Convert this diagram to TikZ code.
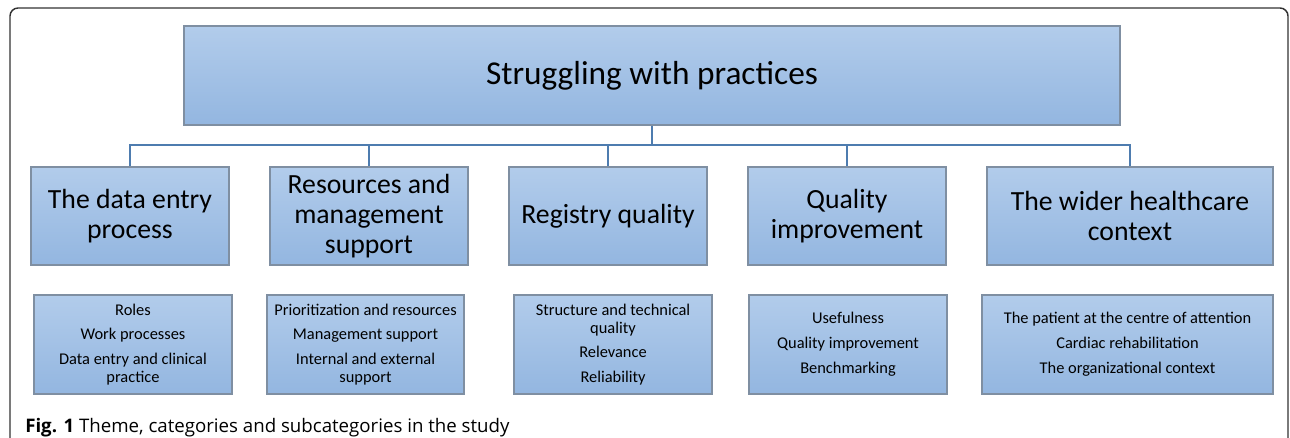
\documentclass[tikz,border=0pt]{standalone}
\usepackage{fontspec}
\setmainfont{Carlito}
\newfontfamily\capfont{Open Sans}
\definecolor{boxtop}{HTML}{B2CCEB}
\definecolor{boxbot}{HTML}{93B6E0}
\definecolor{boxline}{HTML}{7F8FA2}
\definecolor{conn}{HTML}{4E7CAF}
\definecolor{frame}{HTML}{333333}
\begin{document}
\begin{tikzpicture}[x=0.75pt,y=-0.75pt,
  box/.style={draw=boxline, line width=1.2pt, top color=boxtop, bottom color=boxbot,
    rectangle, align=center, inner sep=0pt, text=black},
  titlebox/.style={box, font=\fontsize{25}{29}\selectfont},
  catbox/.style={box, font=\fontsize{20.8}{22.5}\selectfont},
  subbox/.style={box, font=\fontsize{12.3}{13.6}\selectfont},
  link/.style={draw=conn, line width=1.9pt}
]
\useasboundingbox (0,0) rectangle (1290,438);
\draw[frame, line width=1.1pt, rounded corners=6pt] (10,450) -- (10,8) -- (1288,8) -- (1288,450);

\node[titlebox, minimum width={936*0.75pt}, minimum height={99*0.75pt}] (top) at (652,75.5) {Struggling with practices};

\node[catbox, minimum width={198*0.75pt}, minimum height={98*0.75pt}] (c1) at (130,216) {The data entry\\process};
\node[catbox, minimum width={198*0.75pt}, minimum height={98*0.75pt}] (c2) at (369,216) {Resources and\\management\\support};
\node[catbox, minimum width={198*0.75pt}, minimum height={98*0.75pt}] (c3) at (608,216) {Registry quality};
\node[catbox, minimum width={198*0.75pt}, minimum height={98*0.75pt}] (c4) at (847,216) {Quality\\improvement};
\node[catbox, minimum width={286*0.75pt}, minimum height={98*0.75pt}] (c5) at (1130,216) {The wider healthcare\\context};

\node[subbox, minimum width={198*0.75pt}, minimum height={99*0.75pt}] (s1) at (133,344.5) {Roles\\[5pt]Work processes\\[5pt]Data entry and clinical\\practice};
\node[subbox, minimum width={197*0.75pt}, minimum height={99*0.75pt}] (s2) at (365.5,344.5) {Prioritization and resources\\[5pt]Management support\\[5pt]Internal and external\\support};
\node[subbox, minimum width={198*0.75pt}, minimum height={99*0.75pt}] (s3) at (613,344.5) {Structure and technical\\quality\\[5pt]Relevance\\[5pt]Reliability};
\node[subbox, minimum width={198*0.75pt}, minimum height={99*0.75pt}] (s4) at (848,344.5) {Usefulness\\[5pt]Quality improvement\\[5pt]Benchmarking};
\node[subbox, minimum width={291*0.75pt}, minimum height={99*0.75pt}] (s5) at (1127.5,344.5) {The patient at the centre of attention\\[5pt]Cardiac rehabilitation\\[5pt]The organizational context};

\coordinate (bus) at (652,145);
\draw[link] (top.south) -- (bus);
\draw[link] (c1.north) -- (c1.north |- bus) -- (c5.north |- bus) -- (c5.north);
\draw[link] (c2.north) -- (c2.north |- bus);
\draw[link] (c3.north) -- (c3.north |- bus);
\draw[link] (c4.north) -- (c4.north |- bus);

\node[anchor=base west, inner sep=0pt, font=\capfont\fontsize{14}{16}\selectfont] (cap) at (25,433) {\textbf{Fig. 1} Theme, categories and subcategories in the study};
\end{tikzpicture}
\end{document}
